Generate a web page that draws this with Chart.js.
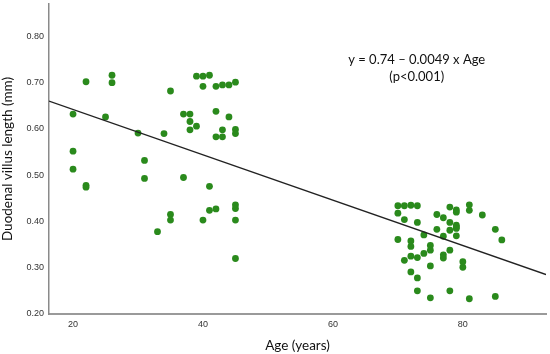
<!DOCTYPE html>
<html>
<head>
<meta charset="utf-8">
<script src="https://cdn.jsdelivr.net/npm/chart.js@4.4.1/dist/chart.umd.min.js"></script>
<style>
  html, body { margin: 0; padding: 0; background: #fff; }
  #wrap { width: 550px; height: 354px; position: relative; }
</style>
</head>
<body>
<div id="wrap"><canvas id="chart"></canvas></div>
<script>
// ages (years) and duodenal villus length (mm)
const ages = [
  20, 20, 20, 22, 22, 22, 25, 26, 26, 30, 31, 31, 33, 34, 35, 35, 35,
  37, 37, 38, 38, 38, 39, 39, 40, 40, 40, 41, 41, 41,
  42, 42, 42, 42, 43, 43, 43, 44, 44, 45, 45, 45, 45, 45, 45, 45,
  70, 71, 72, 73, 70, 71, 73, 78, 79, 79, 81, 81, 83,
  76, 77, 78, 79, 79, 79, 76, 78, 74, 77, 79, 85, 86,
  70, 72, 72, 75, 75, 74, 78, 77, 77, 71, 72, 73, 80, 80,
  75, 72, 73, 73, 78, 75, 81, 85
];
const villusLength = [
  0.632, 0.552, 0.513, 0.702, 0.478, 0.474, 0.626, 0.716, 0.700, 0.591, 0.532, 0.493, 0.378, 0.590, 0.682, 0.415, 0.403,
  0.632, 0.495, 0.632, 0.616, 0.598, 0.606, 0.714, 0.714, 0.692, 0.403, 0.716, 0.476, 0.424,
  0.692, 0.638, 0.583, 0.427, 0.695, 0.598, 0.583, 0.695, 0.626, 0.701, 0.599, 0.590, 0.436, 0.428, 0.403, 0.320,
  0.434, 0.434, 0.435, 0.434, 0.418, 0.404, 0.398, 0.431, 0.425, 0.420, 0.436, 0.424, 0.414,
  0.415, 0.408, 0.398, 0.392, 0.388, 0.385, 0.383, 0.381, 0.371, 0.368, 0.369, 0.383, 0.360,
  0.361, 0.358, 0.346, 0.348, 0.338, 0.331, 0.338, 0.328, 0.321, 0.316, 0.325, 0.322, 0.313, 0.301,
  0.304, 0.291, 0.278, 0.250, 0.250, 0.235, 0.233, 0.238
];

// regression from the figure text
const intercept = 0.74;
const slope = -0.0049;
const xMin = 16.3, xMax = 92.8;
const yMin = 0.2, yMax = 0.87;
const yTicks = [0.2, 0.3, 0.4, 0.5, 0.6, 0.7, 0.8];
const xTicks = [20, 40, 60, 80];

const points = ages.map((a, i) => ({ x: a, y: villusLength[i] }));
const fitLine = [xMin, xMax].map(a => ({ x: a, y: intercept + slope * a }));

const font = "Lato, 'Liberation Sans', sans-serif";

// equation label in the upper right
const equationLabel = {
  id: 'equationLabel',
  afterDraw(chart) {
    const ctx = chart.ctx;
    const xs = chart.scales.x, ys = chart.scales.y;
    const cx = xs.getPixelForValue(72.9);
    ctx.save();
    ctx.fillStyle = '#111';
    ctx.font = "13px " + font;
    ctx.textAlign = 'center';
    ctx.textBaseline = 'middle';
    ctx.fillText('y = 0.74 \u2013 0.0049 x Age', cx, ys.getPixelForValue(0.749));
    ctx.fillText('(p<0.001)', cx, ys.getPixelForValue(0.712));
    ctx.restore();
  }
};

new Chart(document.getElementById('chart'), {
  type: 'scatter',
  data: {
    datasets: [
      {
        type: 'line',
        data: fitLine,
        borderColor: '#222',
        borderWidth: 1.3,
        pointRadius: 0,
        fill: false
      },
      {
        data: points,
        backgroundColor: '#2a8a1c',
        borderColor: '#2a8a1c',
        pointRadius: 3.4,
        borderWidth: 0
      }
    ]
  },
  options: {
    responsive: true,
    maintainAspectRatio: false,
    animation: false,
    layout: { padding: { top: 4, right: 4, left: 0, bottom: 0 } },
    plugins: {
      legend: { display: false },
      tooltip: { enabled: false }
    },
    scales: {
      x: {
        type: 'linear',
        min: xMin,
        max: xMax,
        afterBuildTicks: s => { s.ticks = xTicks.map(v => ({ value: v })); },
        grid: { display: false, drawTicks: false },
        border: { display: true, color: '#9a9a9a', width: 2 },
        ticks: {
          color: '#333',
          font: { family: "'Liberation Sans', Arial, sans-serif", size: 9 },
          padding: 5
        },
        title: {
          display: true,
          text: 'Age (years)',
          color: '#111',
          font: { family: font, size: 13.5 },
          padding: { top: 5, bottom: 0 }
        },
        afterFit: s => { s.height = 40; s.paddingLeft = 0; s.paddingRight = 0; }
      },
      y: {
        type: 'linear',
        min: yMin,
        max: yMax,
        afterBuildTicks: s => { s.ticks = yTicks.map(v => ({ value: v })); },
        grid: { display: false, drawTicks: false },
        border: { display: true, color: '#8a8a8a', width: 1.5 },
        ticks: {
          color: '#333',
          font: { family: "'Liberation Sans', Arial, sans-serif", size: 9 },
          padding: 5,
          callback: v => v.toFixed(2)
        },
        title: {
          display: true,
          text: 'Duodenal villus length (mm)',
          color: '#111',
          font: { family: font, size: 13.5 },
          padding: { top: 0, bottom: 6 }
        },
        afterFit: s => { s.width = 49; s.paddingTop = 0; s.paddingBottom = 0; }
      }
    }
  },
  plugins: [equationLabel]
});
</script>
</body>
</html>
